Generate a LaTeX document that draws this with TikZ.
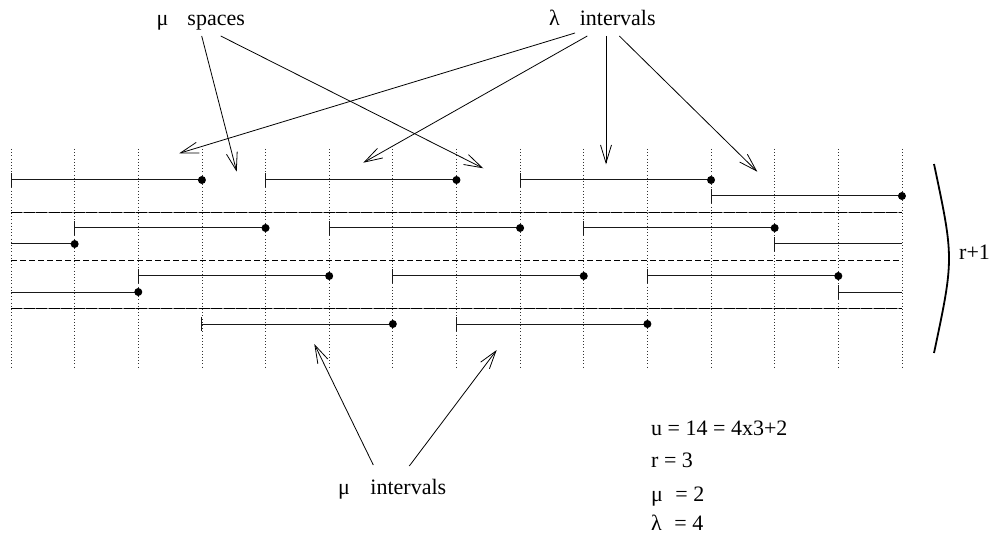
\documentclass[tikz,border=0pt]{standalone}
\usepackage{fontspec}
\setmainfont{Liberation Serif}
\usetikzlibrary{arrows.meta}
\begin{document}
\begin{tikzpicture}[x=1pt,y=-1pt,
  lbl/.style={inner sep=0pt,anchor=base west,font=\fontsize{22}{26}\selectfont},
  ptr/.style={line width=0.8pt,-{Straight Barb[length=18pt,width=11pt,line width=0.8pt]}},
  gridline/.style={line width=0.8pt,dash pattern=on 1pt off 2.2pt,black!80},
  ivl/.style={line width=1pt,black!90},
  sep/.style={line width=0.9pt,dash pattern=on 6pt off 3pt},
  sepb/.style={line width=0.9pt,dash pattern=on 11pt off 1.5pt}]
\useasboundingbox (0,0) rectangle (991,540);
% vertical dotted grid
\foreach \i in {0,...,14}
  \draw[gridline] ({11+63.64*\i},149) -- ({11+63.64*\i},368);
% separators
\draw[line width=0.9pt,black!45] (11,212) -- (902,212);
\draw[sepb] (11,212) -- (902,212);
\draw[sep] (11,260) -- (902,260);
\draw[line width=0.9pt,black!45] (11,308) -- (902,308);
\draw[sepb] (11,308) -- (902,308);
% intervals: row y / start / end / tick / dot
\foreach \y/\a/\b/\t/\d in {180/0/3/1/1, 180/4/7/1/1, 180/8/11/1/1, 196/11/14/1/1,
    228/1/4/1/1, 228/5/8/1/1, 228/9/12/1/1, 244/0/1/0/1, 244/12/14/1/0,
    276/2/5/1/1, 276/6/9/1/1, 276/10/13/1/1, 292/0/2/0/1, 292/13/14/1/0,
    324/3/6/1/1, 324/7/10/1/1}{
  \draw[ivl] ({11+63.64*\a},\y) -- ({11+63.64*\b},\y);
  \ifnum\t=1 \draw[ivl] ({11+63.64*\a},{\y-7}) -- ({11+63.64*\a},{\y+7}); \fi
  \ifnum\d=1 \fill ({11+63.64*\b},\y) circle[radius=4]; \fi
}
% bracket
\draw[line width=1.8pt] (934,164) .. controls (954,258.5) .. (934,353);
\node[lbl] (rplus) at (959,260) {r+1};
% labels
\node[lbl] (muspaces) at (156.5,26) {μ\hspace{19pt}spaces};
\node[lbl] (lamint) at (549,26) {λ\hspace{20pt}intervals};
\node[lbl] (muint) at (338,494) {μ\hspace{20.5pt}intervals};
\node[lbl] (eqa) at (651,435) {u = 14 = 4x3+2};
\node[lbl] (eqb) at (651,467) {r = 3};
\node[lbl] (eqc) at (651,501) {μ\hspace{7pt} = 2};
\node[lbl] (eqd) at (651,530) {λ\hspace{7pt} = 4};
% arrow end points
\coordinate (ms1) at (201.7,36);
\coordinate (ms2) at (220.7,36);
\coordinate (ls1) at (575,33);
\coordinate (ls2) at (587.3,36);
\coordinate (ls3) at (606,36);
\coordinate (ls4) at (619.3,36);
\coordinate (mi1) at (373.3,465);
\coordinate (mi2) at (409.3,466);
\coordinate (gapA) at (236.7,171.7);
\coordinate (gapB) at (483.3,168.3);
\coordinate (ivA) at (179.3,153.3);
\coordinate (ivB) at (363.3,162.7);
\coordinate (ivC) at (606,164.3);
\coordinate (ivD) at (757.3,171.7);
\coordinate (bivA) at (314.3,344);
\coordinate (bivB) at (496.7,350);
\draw[ptr] (ms1) -- (gapA);
\draw[ptr] (ms2) -- (gapB);
\draw[ptr] (ls1) -- (ivA);
\draw[ptr] (ls2) -- (ivB);
\draw[ptr] (ls3) -- (ivC);
\draw[ptr] (ls4) -- (ivD);
\draw[ptr] (mi1) -- (bivA);
\draw[ptr] (mi2) -- (bivB);
\end{tikzpicture}
\end{document}
